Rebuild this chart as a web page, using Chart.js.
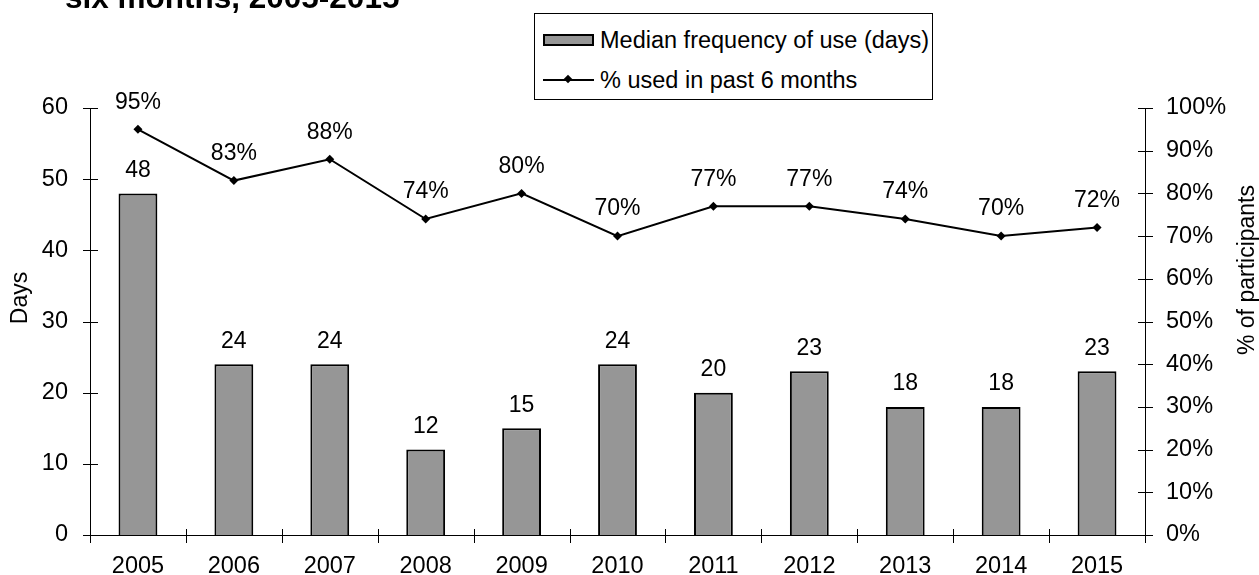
<!DOCTYPE html>
<html>
<head>
<meta charset="utf-8">
<script src="https://cdn.jsdelivr.net/npm/chart.js@4/dist/chart.umd.min.js"></script>
<style>
    body { margin: 0; background: #fff; }
    #wrap { position: relative; width: 1259px; height: 575px; overflow: hidden; font-family: "Liberation Sans", Arial, sans-serif; }
    #title { position: absolute; left: 65px; top: -19px; font-weight: bold; font-size: 31.5px; line-height: 32px; white-space: nowrap; color: #000; }
    #legend { position: absolute; left: 534px; top: 13px; width: 397px; height: 85px; border: 1px solid #000; background: #fff; }
    .item { position: absolute; left: 8px; height: 24px; font-size: 23.5px; line-height: 24px; white-space: nowrap; color: #000; }
    .sym { display: inline-block; position: relative; width: 51px; height: 24px; vertical-align: top; margin-right: 6px; }
    .box { position: absolute; left: 0; top: 6px; width: 47px; height: 8px; border: 2px solid #000; background: #969696; }
    .ln { position: absolute; left: 0; top: 11px; width: 51px; height: 2px; background: #000; }
    .dia { position: absolute; left: 22px; top: 8px; width: 6px; height: 6px; background: #000; transform: rotate(45deg); }
</style>
</head>
<body>
<div id="wrap">
    <canvas id="chart" width="1259" height="575"></canvas>
    <div id="title">six months, 2005-2015</div>
    <div id="legend"></div>
</div>
<script>
const years = ['2005','2006','2007','2008','2009','2010','2011','2012','2013','2014','2015']
const medianDays = [48, 24, 24, 12, 15, 24, 20, 23, 18, 18, 23]
const pctUsed = [95, 83, 88, 74, 80, 70, 77, 77, 74, 70, 72]
const daysTicks = [0, 10, 20, 30, 40, 50, 60]
const pctTicks = [0, 10, 20, 30, 40, 50, 60, 70, 80, 90, 100]

const font = '"Liberation Sans", Arial, sans-serif'
Chart.defaults.font.family = font
Chart.defaults.color = '#000'

//value labels above bars and points
const valueLabels = {
    id: 'valueLabels',
    afterDatasetsDraw(chart) {
        const ctx = chart.ctx
        ctx.save()
        ctx.font = '23px ' + font
        ctx.fillStyle = '#000'
        ctx.textAlign = 'center'
        ctx.textBaseline = 'middle'
        chart.data.datasets.forEach((ds, i) => {
            chart.getDatasetMeta(i).data.forEach((el, j) => {
                if(ds.type === 'line') ctx.fillText(ds.data[j] + '%', el.x, el.y - 27)
                else ctx.fillText(ds.data[j], el.x, el.y - 23)
            })
        })
        ctx.restore()
    }
}

//tick marks crossing the axes, plus axis titles
const axisExtras = {
    id: 'axisExtras',
    afterDraw(chart) {
        const {ctx, scales} = chart
        ctx.save()
        ctx.strokeStyle = '#000'
        ctx.lineWidth = 1
        ctx.beginPath()
        ;['y', 'y1'].forEach(id => {
            const s = scales[id]
            const ax = Math.round(id === 'y' ? s.right : s.left)
            s.ticks.forEach((t, i) => {
                const py = Math.round(s.getPixelForTick(i)) + 0.5
                ctx.moveTo(ax - 7, py)
                ctx.lineTo(ax + 8, py)
            })
        })
        const x = scales.x
        const n = x.ticks.length
        const step = x.getPixelForTick(1) - x.getPixelForTick(0)
        const ay = Math.round(x.top)
        for(let i = 0; i <= n; i++) {
            const px = Math.round(x.getPixelForTick(0) - step / 2 + i * step) + 0.5
            ctx.moveTo(px, ay - 6)
            ctx.lineTo(px, ay + 8)
        }
        ctx.stroke()

        ctx.fillStyle = '#000'
        ctx.font = '23px ' + font
        ctx.textAlign = 'center'
        ctx.textBaseline = 'middle'
        ctx.save()
        ctx.translate(21, 298)
        ctx.rotate(-Math.PI / 2)
        ctx.fillText('Days', 0, 0)
        ctx.restore()
        ctx.save()
        ctx.translate(1248, 270)
        ctx.rotate(-Math.PI / 2)
        ctx.fillText('% of participants', 0, 0)
        ctx.restore()
        ctx.restore()
    }
}

let chart = new Chart(document.getElementById('chart').getContext('2d'), {
    type: 'bar',
    data: {
        labels: years,
        datasets: [
            {
                label: 'Median frequency of use (days)',
                data: medianDays,
                backgroundColor: '#969696',
                borderColor: '#000',
                borderWidth: 2,
                barPercentage: 0.5,
                categoryPercentage: 0.81,
                yAxisID: 'y',
                order: 2
            },
            {
                type: 'line',
                label: '% used in past 6 months',
                data: pctUsed,
                borderColor: '#000',
                backgroundColor: '#000',
                borderWidth: 2,
                pointStyle: 'rectRot',
                pointRadius: 4.5,
                pointBorderWidth: 0,
                tension: 0,
                yAxisID: 'y1',
                order: 1
            }
        ]
    },
    options: {
        responsive: false,
        animation: false,
        layout: { padding: { top: 108, left: 0, right: 0, bottom: 0 } },
        plugins: {
            legend: { display: false },
            tooltip: { enabled: false }
        },
        scales: {
            x: {
                offset: true,
                grid: { display: false },
                border: { display: true, color: '#000', width: 1 },
                ticks: { padding: 9, font: { size: 23.5 } },
                afterFit: s => { s.height = 40 }
            },
            y: {
                position: 'left',
                min: daysTicks[0],
                max: daysTicks[daysTicks.length - 1],
                afterBuildTicks: s => { s.ticks = daysTicks.map(v => ({value: v})) },
                grid: { display: false },
                border: { display: true, color: '#000', width: 1 },
                ticks: { padding: 14, font: { size: 23.5 } },
                afterFit: s => { s.width = 90 }
            },
            y1: {
                position: 'right',
                min: pctTicks[0],
                max: pctTicks[pctTicks.length - 1],
                afterBuildTicks: s => { s.ticks = pctTicks.map(v => ({value: v})) },
                grid: { display: false },
                border: { display: true, color: '#000', width: 1 },
                ticks: { padding: 13, font: { size: 23.5 }, callback: v => v + '%' },
                afterFit: s => { s.width = 114 }
            }
        }
    },
    plugins: [valueLabels, axisExtras]
})

//html legend from the datasets
let legend = document.getElementById('legend')
chart.data.datasets.forEach((ds, i) => {
    let item = document.createElement('div')
    item.className = 'item'
    item.style.top = (i === 0 ? 14 : 54) + 'px'
    let sym = document.createElement('span')
    sym.className = 'sym'
    if(ds.type === 'line') sym.innerHTML = '<span class="ln"></span><span class="dia"></span>'
    else sym.innerHTML = '<span class="box"></span>'
    item.appendChild(sym)
    item.appendChild(document.createTextNode(ds.label))
    legend.appendChild(item)
})
</script>
</body>
</html>
